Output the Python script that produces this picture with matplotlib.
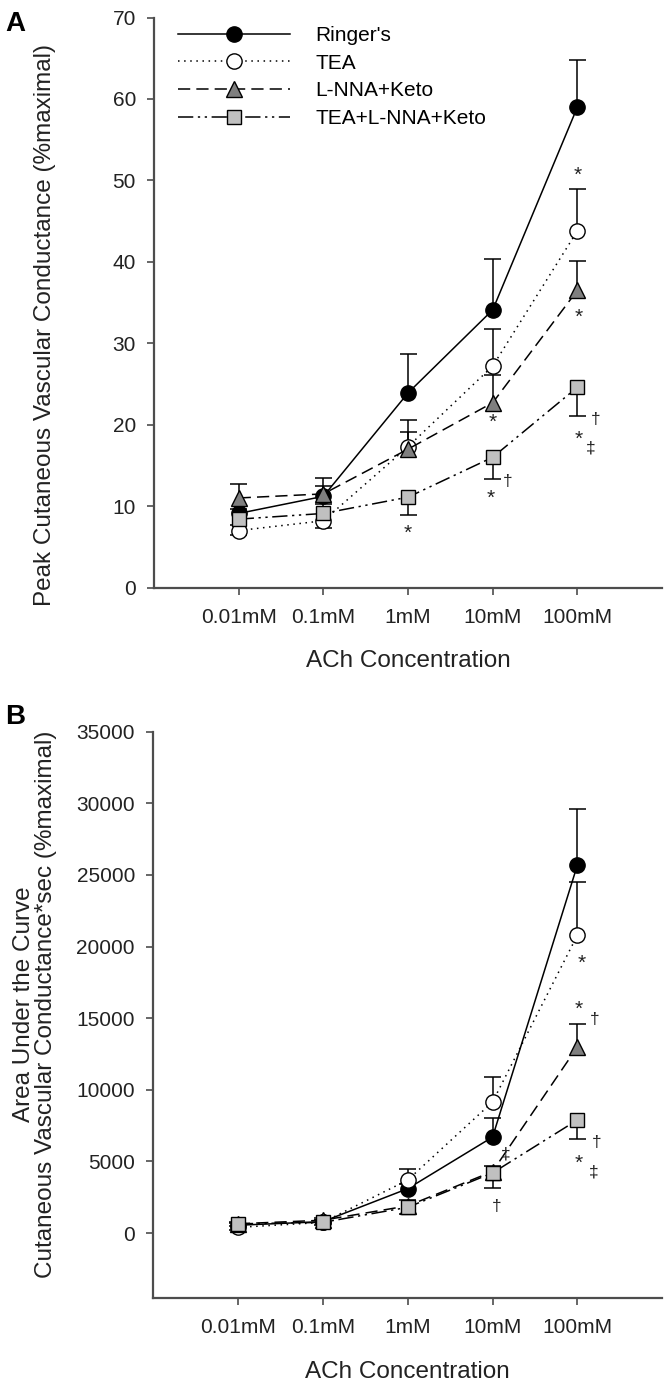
import matplotlib
matplotlib.use("Agg")
import matplotlib.pyplot as plt
import numpy as np

plt.rcParams['font.family'] = ['Liberation Sans', 'DejaVu Sans']

conc = ['0.01mM', '0.1mM', '1mM', '10mM', '100mM']
names = ["Ringer's", 'TEA', 'L-NNA+Keto', 'TEA+L-NNA+Keto']

# panel A: peak CVC (%max)
ringer_a = [9.1, 11.2, 23.9, 34.1, 59.0]
tea_a = [7.0, 8.2, 17.3, 27.2, 43.8]
lnna_a = [11.0, 11.5, 17.0, 22.7, 36.5]
combo_a = [8.4, 9.1, 11.1, 16.0, 24.6]
# SEM; positive = drawn upward, negative = drawn downward
ringer_a_err = [0.6, 2.2, 4.8, 6.3, 5.8]
tea_a_err = [-0.6, -0.9, 3.3, 4.6, 5.1]
lnna_a_err = [1.7, 1.0, 2.1, 3.4, 3.6]
combo_a_err = [-0.7, 1.2, -2.2, -2.7, -3.5]

# panel B: area under the curve
ringer_b = [550, 800, 3100, 6700, 25700]
tea_b = [400, 750, 3700, 9150, 20800]
lnna_b = [650, 900, 1900, 4300, 13000]
combo_b = [650, 750, 1800, 4200, 7900]
ringer_b_err = [150, 150, 300, 1350, 3900]
tea_b_err = [-150, 150, 800, 1750, 3700]
lnna_b_err = [150, 150, 400, 400, 1600]
combo_b_err = [-150, -150, -450, -1050, -1300]

styles = [
    dict(ls='-', marker='o', mfc='black', ms=11),
    dict(ls=(0, (1, 3)), marker='o', mfc='white', ms=11),
    dict(ls=(0, (8, 4)), marker='^', mfc='#7f7f7f', ms=11.5),
    dict(ls=(0, (10, 3, 1.5, 3, 1.5, 3)), marker='s', mfc='#c0c0c0', ms=9.5),
]

fig = plt.figure(figsize=(6.65, 13.89), dpi=100)
axA = fig.add_axes([0.2316, 0.577, 0.764, 0.4104])
axB = fig.add_axes([0.2300, 0.0658, 0.766, 0.4075])

x = np.arange(1, 6)


def draw(ax, series, errs):
    for ys, es, st, nm in zip(series, errs, styles, names):
        ys = np.array(ys, float)
        es = np.array(es, float)
        ends = ys + es
        ax.vlines(x, ys, ends, color='black', lw=1.1, zorder=2)
        ax.hlines(ends, x - 0.1, x + 0.1, color='black', lw=1.1, zorder=2)
        ax.plot(x, ys, color='black', lw=1.1, ls=st['ls'], marker=st['marker'],
                mfc=st['mfc'], mec='black', mew=1.0, ms=st['ms'], label=nm, zorder=3)


def style(ax):
    for s in ['top', 'right']:
        ax.spines[s].set_visible(False)
    for s in ['left', 'bottom']:
        ax.spines[s].set_color('#4d4d4d')
        ax.spines[s].set_linewidth(1.6)
    ax.tick_params(direction='out', length=5, width=1.2, color='#4d4d4d',
                   labelsize=15, pad=8, labelcolor='#222222')
    ax.tick_params(axis='x', pad=10)
    ax.set_xlim(0, 6)
    ax.set_xticks(x)
    ax.set_xticklabels(conc)
    ax.set_xlabel('ACh Concentration', fontsize=17.5, color='#222222')


draw(axA, [ringer_a, tea_a, lnna_a, combo_a],
     [ringer_a_err, tea_a_err, lnna_a_err, combo_a_err])
style(axA)
axA.set_ylim(0, 70)
axA.set_yticks(np.arange(0, 71, 10))
axA.xaxis.set_label_coords(0.5, -0.11)
axA.set_ylabel('Peak Cutaneous Vascular Conductance (%maximal)', fontsize=17.5,
               color='#222222', va='center')
axA.yaxis.set_label_coords(-0.215, 0.46)

draw(axB, [ringer_b, tea_b, lnna_b, combo_b],
     [ringer_b_err, tea_b_err, lnna_b_err, combo_b_err])
style(axB)
axB.set_ylim(-4500, 35000)
axB.set_yticks(np.arange(0, 35001, 5000))
axB.xaxis.set_label_coords(0.5, -0.112)
axB.set_ylabel('Area Under the Curve\nCutaneous Vascular Conductance*sec (%maximal)',
               fontsize=17.5, color='#222222', linespacing=0.95, va='center')
axB.yaxis.set_label_coords(-0.2316, 0.518)

leg = axA.legend(loc='upper left', bbox_to_anchor=(0.03, 1.0), frameon=False,
                 fontsize=15, handlelength=5.4, handletextpad=1.2,
                 labelspacing=0.42, borderaxespad=0)

# significance marks
star_kw = dict(ha='center', va='center', fontsize=15, color='#222222')
dag_kw = dict(ha='center', va='center', fontsize=12.5, color='#222222')
axA.text(3.0, 6.7, '*', **star_kw)
axA.text(4.0, 20.3, '*', **star_kw)
axA.text(3.98, 11.0, '*', **star_kw)
axA.text(4.18, 13.0, '\u2020', **dag_kw)
axA.text(5.0, 50.6, '*', **star_kw)
axA.text(5.02, 33.2, '*', **star_kw)
axA.text(5.01, 18.2, '*', **star_kw)
axA.text(5.21, 20.6, '\u2020', **dag_kw)
axA.text(5.16, 17.1, '\u2021', **dag_kw)

axB.text(5.05, 18800, '*', **star_kw)
axB.text(5.02, 15600, '*', **star_kw)
axB.text(5.2, 14900, '\u2020', **dag_kw)
axB.text(5.02, 4900, '*', **star_kw)
axB.text(5.23, 6300, '\u2020', **dag_kw)
axB.text(5.19, 4300, '\u2021', **dag_kw)
axB.text(4.05, 1850, '\u2020', **dag_kw)
axB.text(4.16, 5500, '\u2021', **dag_kw)

fig.text(0.008, 0.992, 'A', fontsize=20, fontweight='bold', va='top')
fig.text(0.008, 0.493, 'B', fontsize=20, fontweight='bold', va='top')

fig.savefig('out.png', dpi=100)
